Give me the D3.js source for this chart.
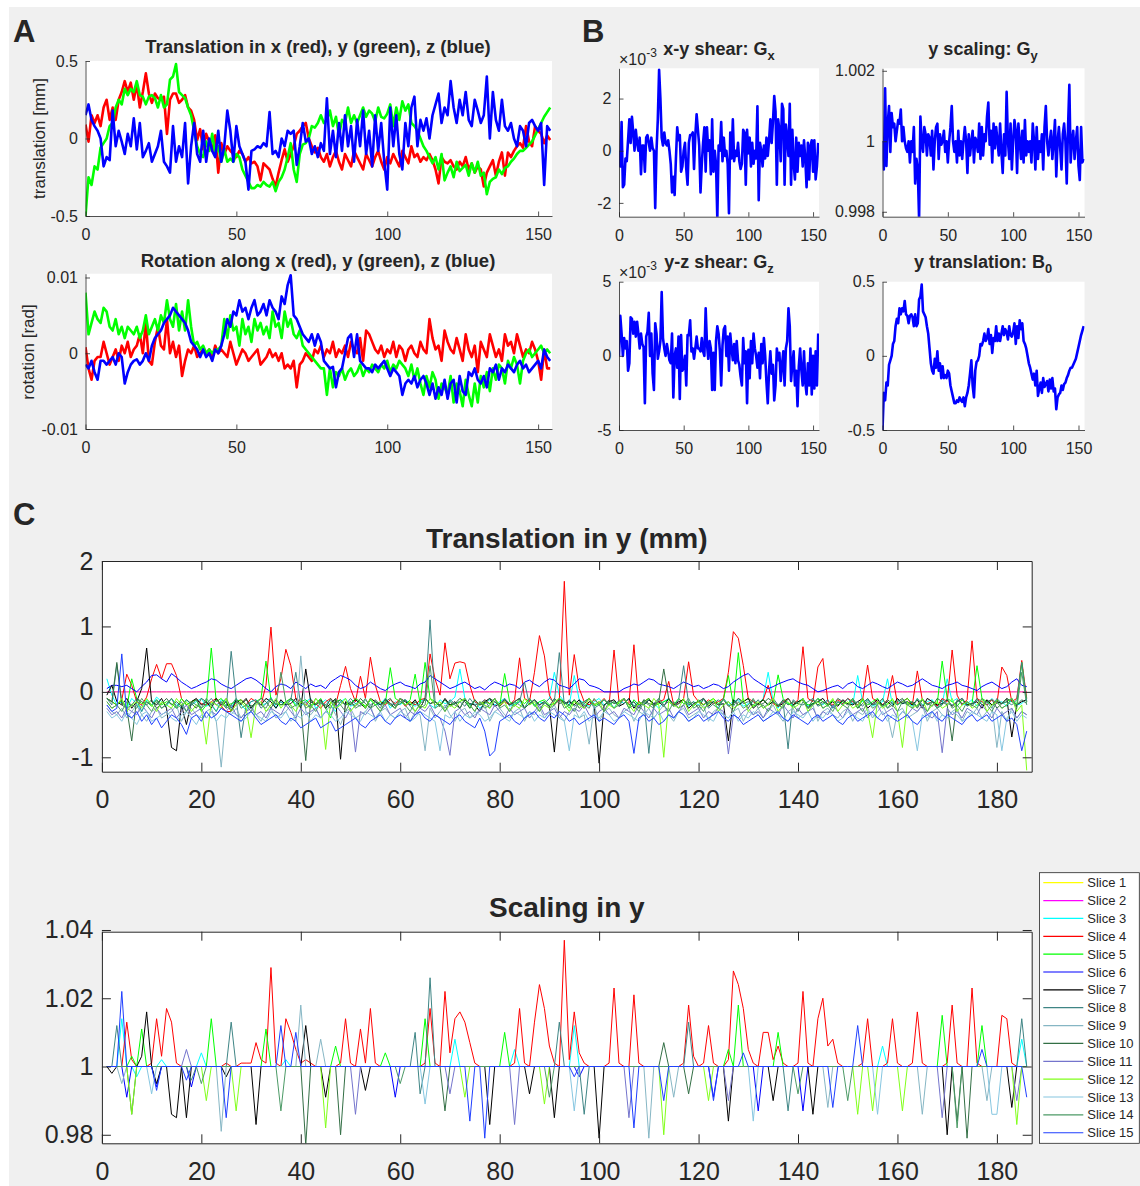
<!DOCTYPE html>
<html>
<head>
<meta charset="utf-8">
<script src="https://cdn.jsdelivr.net/npm/d3@7"></script>
<style>
  body { margin: 0; background: #fff; }
  svg text { font-family: "Liberation Sans", Arial, sans-serif; fill: #262626; }
</style>
</head>
<body>
<svg id="fig" width="1140" height="1186"></svg>
<script>
// ---------- panel A / B : 155 time points, x = 0..154 ----------
// translation in mm x100
const transX = [
  9,-2,15,10,15,8,20,25,12,20,
  12,25,30,37,30,36,25,35,20,30,
  42,29,23,29,26,25,27,3,25,29,
  29,23,25,28,20,18,12,-1,6,-7,
  3,-2,-8,2,-22,-3,-10,-5,-8,-10,
  -12,-8,-10,-15,-12,-16,-15,-18,-27,-16,
  -18,-20,-26,-31,-22,-14,-7,-15,-10,-5,
  3,5,8,10,0,-5,-9,-6,-12,-15,
  -10,-18,-12,-8,-15,-20,-10,-14,-18,-8,
  -12,-16,-20,-10,-14,-18,-12,-8,-15,-20,
  -12,-16,-10,-14,-18,-8,-12,-16,-5,-12,
  -10,-15,-12,-14,-10,-14,-20,-29,-12,-15,
  -16,-14,-18,-20,-15,-18,-12,-20,-16,-22,
  -18,-20,-31,-22,-18,-14,-24,-15,-9,-24,
  -9,-12,-8,-5,-3,-6,8,-2,-5,8,
  5,3,-3,2,-1
];
const transY = [
  -50,-25,-30,-18,-20,-6,-3,0,8,10,
  20,25,22,32,28,32,30,37,28,27,
  22,27,28,26,20,28,20,22,38,40,
  48,30,28,26,20,15,5,-5,-10,-12,
  -2,-8,3,-10,-5,-15,-7,-15,-13,-15,
  -10,-12,-20,-24,-28,-32,-32,-30,-31,-28,
  -30,-31,-28,-34,-28,-25,-20,-12,-3,-20,
  -28,-10,-4,-3,0,8,7,10,15,10,
  12,18,8,14,2,12,10,20,10,15,
  10,15,20,14,18,16,11,20,14,13,
  16,22,8,20,12,24,18,22,10,8,
  5,0,-5,-8,-12,-16,-12,-20,-10,-27,
  -22,-18,-25,-15,-21,-19,-17,-24,-16,-22,
  -15,-24,-22,-36,-28,-26,-25,-20,-23,-19,
  -18,-15,-13,-10,-8,-8,-6,-4,-2,2,
  6,10,14,17,20
];
const transZ = [
  15,22,12,8,5,0,-18,-12,-14,18,
  -5,5,-2,-10,3,-5,13,-7,10,-12,
  -8,-3,-15,-10,-5,5,-15,-18,-22,8,
  -15,-5,-12,10,-29,-5,10,-10,-15,5,
  -15,0,-8,-12,5,-15,-5,18,5,-15,
  8,-5,-10,-15,-33,-8,-7,-5,-6,-3,
  -5,17,-10,-8,-12,0,-5,5,3,5,
  -17,-5,10,-2,0,-10,-5,-12,-3,-8,
  26,-10,5,-12,10,-8,15,-5,8,-15,
  12,-5,18,-10,5,-18,15,-8,10,-15,
  -33,20,-5,15,-10,-20,10,-5,20,27,
  -5,12,5,13,0,15,22,29,10,20,
  15,37,20,10,25,15,30,12,8,25,
  18,10,15,40,0,30,12,5,25,8,
  5,10,0,-5,8,5,-5,10,12,8,
  5,10,-30,8,5
];
// rotation in rad x1e4
const rotX = [
  8,-20,-35,-10,-5,-5,15,0,-15,-5,
  5,-10,10,0,15,-5,5,10,25,0,
  40,-10,-15,15,35,10,5,45,0,15,
  -5,10,-30,-10,5,0,10,-5,0,5,
  0,5,-5,10,0,5,0,-5,15,0,
  -15,-5,5,0,-10,-5,0,5,-15,-10,
  -5,5,-5,0,-10,0,-20,-15,-20,-10,
  -45,-15,-10,0,-5,-10,5,0,10,-5,
  5,0,15,-5,5,0,10,-5,15,5,
  0,20,-10,30,25,15,5,0,10,-5,
  5,0,15,-5,10,5,-10,5,10,0,
  -5,15,5,0,45,20,5,10,-10,30,
  15,5,0,20,5,-10,25,5,-5,10,
  -25,15,5,-5,25,10,-5,5,-10,25,
  10,15,0,25,10,-5,5,0,15,5,
  -10,-35,5,-20,-20
];
const rotY = [
  80,25,40,55,45,40,60,55,35,30,
  45,25,35,20,35,30,25,35,20,30,
  50,25,35,45,30,50,40,70,45,35,
  65,30,55,30,70,35,10,15,5,10,
  0,5,0,5,5,10,45,20,50,30,
  35,10,45,25,35,15,45,30,40,25,
  35,20,55,35,40,20,55,35,45,25,
  20,30,10,5,0,-5,-10,-15,-20,-20,
  -55,-20,-45,-25,-30,-20,-35,-25,-20,-30,
  -25,-15,-30,-20,-25,-15,-20,-25,-15,-20,
  -10,-25,-15,-20,-10,-15,-20,-30,-15,-35,
  -20,-40,-55,-30,-45,-25,-35,-60,-40,-45,
  -55,-30,-65,-40,-50,-70,-35,-55,-70,-40,
  -65,-30,-45,-25,-50,-20,-35,-15,-20,-40,
  -10,-20,-5,-15,-40,-10,0,5,-5,0,
  5,10,0,5,0
];
const rotZ = [
  -15,-20,-10,-25,-35,-10,-10,-15,-10,-5,
  -15,0,-5,-40,-25,-15,-10,-8,-15,-10,
  0,-10,10,20,25,30,40,45,50,60,
  55,50,45,40,30,15,10,5,-5,5,
  -5,0,-10,5,0,10,25,45,35,55,
  50,70,55,60,45,60,70,50,55,65,
  50,70,60,55,45,75,65,90,103,50,
  45,35,25,20,15,25,10,25,15,-10,
  -15,-20,-18,-45,-25,-20,0,20,25,-5,
  25,-10,-15,-20,-20,-25,-15,-20,-15,-10,
  -20,-30,-20,-25,-30,-55,-40,-35,-40,-30,
  -45,-35,-30,-40,-55,-40,-60,-45,-55,-35,
  -60,-40,-35,-65,-30,-50,-55,-25,-30,-20,
  -35,-40,-30,-45,-20,-25,-15,-35,-20,-25,
  -15,-20,-25,-15,-10,-20,-15,-25,-20,-15,
  -10,-20,5,-5,-10
];
// shear x1e4, scaling deviation from 1 x1e4
const shearGx = [
  0,-6,11,-14,-13,-3,-4,4,12,3,
  13,7,0,8,3,0,5,-9,2,2,
  -8,5,6,3,0,5,1,0,-22,0,
  12,31,20,5,2,7,3,2,4,0,
  -5,-16,-10,-17,-3,9,4,6,-8,-6,
  0,3,-7,-13,3,6,6,7,-7,6,
  14,8,2,-16,-5,3,9,-8,9,0,
  4,-9,12,-8,0,-5,-26,2,0,11,
  -4,5,-2,0,-5,-24,7,-3,12,-4,
  0,-2,3,-4,-7,-5,8,7,-13,8,
  -1,5,-6,3,-5,0,-3,17,-19,3,
  0,-6,2,-3,5,-2,4,12,3,11,
  21,15,-13,12,8,-4,18,16,-13,10,
  5,-2,18,-13,8,-5,-11,5,-8,3,
  -2,2,-6,4,-3,-14,3,-11,2,4,
  -8,4,-11,-6,3
];
const scaleGy = [
  0,-8,15,-7,5,10,-3,8,4,5,
  0,3,6,5,9,0,4,0,-2,-3,
  0,-6,0,-3,4,-12,-5,-8,-22,7,
  0,-3,4,2,-4,2,1,-4,3,-8,
  0,4,5,-5,2,-1,0,3,-3,0,
  -6,0,4,10,0,-3,0,-6,3,-4,
  0,-5,0,4,0,-9,2,-4,0,3,
  -6,1,0,-3,5,-5,4,-4,2,0,
  7,11,-1,3,-6,5,-2,4,0,-4,
  5,-3,-9,2,-4,14,0,-5,5,-8,
  0,6,3,-9,5,0,-5,3,-6,6,
  -4,0,-3,0,-6,5,0,-8,4,-5,
  0,-3,2,-8,4,10,0,-4,0,3,
  -5,0,6,-10,0,4,-2,-8,2,5,
  0,-12,4,16,-6,0,3,-5,0,4,
  -7,-11,4,-6,-5
];
const shearGz = [
  0,27,15,0,12,5,10,-10,-5,26,
  25,15,23,13,23,15,5,15,8,6,
  -32,13,16,29,0,15,-12,-23,22,15,
  -2,3,10,43,12,5,0,8,3,-3,
  -5,15,-28,0,5,-8,13,-29,14,-10,
  -8,0,-20,14,14,24,3,5,-2,5,
  13,5,5,3,12,3,0,32,8,-2,
  10,5,-23,2,-23,10,20,15,3,-20,
  7,18,20,0,13,-10,15,5,-3,8,
  -5,10,-3,-6,-14,-20,12,-5,3,-32,
  4,-15,10,-5,15,5,0,-8,2,-15,
  8,-5,12,0,-18,-32,-10,3,-12,-6,
  -30,-20,5,-3,2,-17,-6,3,-20,5,
  10,32,20,-17,-6,3,-20,-10,-34,-7,
  5,-10,-20,3,-18,-26,-5,-20,5,-26,
  0,-22,3,-20,15
];

// ---------- panel C : 15 slices, 186 time points, x = 1..186 ----------
const sliceNames = ['Slice 1','Slice 2','Slice 3','Slice 4','Slice 5','Slice 6','Slice 7','Slice 8',
  'Slice 9','Slice 10','Slice 11','Slice 12','Slice 13','Slice 14','Slice 15'];
const sliceColors = ['#ffff00','#ff00ff','#00ffff','#ff0000','#00ff00','#0000ff','#000000','#3f8585',
  '#86b6c4','#336f45','#7474cc','#80ff1a','#86c6e0','#4c9a66','#1f3fff'];

// reference slice: no motion
const sliceRef = [
  0,0,0,0,0,0,0,0,0,0,0,0,0,0,0,0,0,0,0,0,
  0,0,0,0,0,0,0,0,0,0,0,0,0,0,0,0,0,0,0,0,
  0,0,0,0,0,0,0,0,0,0,0,0,0,0,0,0,0,0,0,0,
  0,0,0,0,0,0,0,0,0,0,0,0,0,0,0,0,0,0,0,0,
  0,0,0,0,0,0,0,0,0,0,0,0,0,0,0,0,0,0,0,0,
  0,0,0,0,0,0,0,0,0,0,0,0,0,0,0,0,0,0,0,0,
  0,0,0,0,0,0,0,0,0,0,0,0,0,0,0,0,0,0,0,0,
  0,0,0,0,0,0,0,0,0,0,0,0,0,0,0,0,0,0,0,0,
  0,0,0,0,0,0,0,0,0,0,0,0,0,0,0,0,0,0,0,0,
  0,0,0,0,0,0
];

// translation in y, mm x100
const ty3 = [
  20,-5,-20,-15,-25,-10,-18,-30,-12,-20,-8,-15,-22,-10,-18,-25,-12,-20,-15,-10,
  -22,-18,-30,-12,-15,-25,-10,-20,-28,-15,-12,-20,-18,-8,-25,-15,-20,-12,-18,-22,
  -15,-10,-25,-18,-12,-20,-30,-15,-10,-22,-18,-15,-25,-12,-20,-18,-10,-25,-15,-20,
  -12,-18,-22,-15,-10,-20,-25,-12,-18,-15,-8,35,-10,-20,-15,-25,-18,-12,-20,-15,
  -10,-22,-18,-15,-25,-12,-20,-15,-18,-10,30,-5,-15,-20,25,-12,-18,-22,-15,-10,
  -20,-15,-25,-12,-18,-10,-22,-15,-20,-12,-18,-25,-15,-10,-20,-18,-12,-22,-15,-20,
  -12,-18,-15,-25,-10,-20,-15,-12,-22,-18,-15,-20,-10,30,-15,-25,-12,-18,-20,-15,
  -10,-22,-18,-15,-20,-12,-25,-15,-18,-10,-20,25,-15,-12,-22,-18,-15,20,-20,-12,
  -18,-15,-22,-10,-20,-15,-12,-25,-18,20,-15,-10,-20,-18,-12,-22,-15,-20,-10,-18,
  -15,-22,-12,-20,-18,-10
];
const ty4 = [
  -10,-15,-20,-12,27,10,-15,-20,-8,20,42,20,43,43,25,-10,-20,-15,-12,-18,
  -20,-15,-10,-22,-30,-30,-15,-12,-20,-10,-15,-20,10,99,-5,20,65,40,-10,-15,
  -20,-12,-18,-25,-15,-10,-20,10,39,5,-15,24,-10,53,10,-15,-20,-12,-18,-10,
  -22,-15,-20,-12,-10,58,20,-5,75,20,44,46,44,10,-15,-20,-12,-18,-10,-22,
  -15,-20,-12,52,-10,-15,30,86,55,-5,-20,-12,169,-5,57,5,-15,-20,-12,-18,
  -10,-20,64,-15,-12,-18,72,-20,-15,-10,-22,-15,-12,16,-20,-18,-10,46,-5,-15,
  -20,-12,-18,-15,-10,30,92,82,40,-10,-15,-20,-12,10,-18,-22,-15,-10,-20,-12,
  69,-10,-15,38,51,-15,-20,-12,-18,-10,-15,-20,-12,41,-10,-15,-20,-12,25,-18,
  -15,-10,-20,32,-12,-18,-15,-22,-10,-15,64,-5,-20,-12,78,-10,-15,-20,-12,-18,
  38,25,-15,-10,48,-10
];
const ty5 = [
  -10,-15,-20,-12,-25,20,-10,-18,-15,-22,-12,-20,-15,-18,-25,-10,-20,-15,-12,-30,
  -20,67,-15,-10,-22,-18,-15,-12,-20,-25,-15,-10,47,-12,-18,-20,-15,-10,-22,-15,
  -12,-20,-18,-10,-25,-40,-15,-12,-20,-18,-10,-15,-22,-12,-20,-15,-18,37,-10,-15,
  -20,-12,27,-18,45,-10,-15,-22,-12,-20,-18,-15,-10,-25,-12,-20,-15,-18,-10,-22,
  28,-15,-20,-12,-18,-10,-22,-15,-12,-20,-18,-10,-15,-25,-12,-20,-15,-10,-22,-18,
  -12,-20,-15,-18,-10,-25,-12,-20,-15,-10,-22,-18,-15,-12,-20,-10,-18,-15,-22,-12,
  -20,-15,-10,-18,-12,25,-20,60,-15,-10,-22,-18,-12,-20,-15,26,-10,-18,-22,-15,
  -12,-20,-18,-10,-15,-22,-12,-20,-15,-18,-10,-25,-12,-20,-15,-10,-22,-18,-12,-20,
  -15,-10,-18,-22,-12,-20,-15,-18,47,-10,-15,-22,-12,-20,-18,40,-10,-15,-20,-12,
  -18,-15,-10,-20,45,-15
];
const ty6 = [
  5,10,10,8,10,5,0,8,15,25,26,20,15,28,22,15,10,5,8,12,
  15,20,18,12,8,5,10,15,20,22,18,12,5,0,8,12,10,5,15,10,
  5,12,8,10,5,15,20,25,22,18,10,5,8,15,10,5,2,8,12,15,
  10,8,5,12,15,25,20,15,10,5,8,12,15,10,5,8,3,10,15,12,
  8,12,10,5,15,18,12,8,15,20,18,10,8,5,12,20,18,10,8,5,
  0,0,0,0,5,8,12,10,15,20,18,12,10,8,5,10,15,12,8,10,
  5,8,12,10,5,8,15,20,25,28,20,15,10,5,8,12,15,18,20,15,
  12,10,5,0,2,5,8,10,5,12,15,8,5,10,15,12,8,5,10,15,
  12,8,10,15,20,15,10,8,5,10,12,15,10,8,5,2,8,12,15,10,
  5,8,15,20,10,8
];
const ty7 = [
  -5,10,-15,-20,-10,-25,-15,5,67,-15,-20,-10,-25,-85,-90,-20,-50,-15,-10,-20,
  -15,-25,-10,-20,-15,-30,-12,-18,-10,-25,-15,-20,-10,-15,-25,-12,-20,-18,-10,-25,
  35,-15,-20,-12,-25,-18,-10,-103,-15,-20,-12,-18,-25,-10,-15,-20,-12,-18,-25,-10,
  -15,-20,-12,-25,-10,-18,-15,-22,-10,-20,-15,-25,-12,-18,-20,-30,-15,-10,-22,-18,
  -12,-20,-15,-10,-25,-18,-12,-20,-15,-22,-92,-10,-18,-15,-20,-12,-25,-15,-18,-109,
  -20,-15,-12,-22,-18,-10,-25,-15,-20,-12,-18,-15,-22,-10,-20,-15,-12,-25,-18,-15,
  -10,-22,-15,-20,-18,-75,-12,-20,-15,-10,-25,-18,-12,-20,-15,-22,-18,-10,-20,-15,
  -12,-25,-18,-15,-10,-20,-15,-22,-12,-18,-20,-15,-10,-25,-18,-12,-20,-15,-22,-10,
  -18,-15,-20,-12,-25,-10,-15,-20,-18,-12,-22,-15,-10,-20,-18,-15,-25,-12,-20,-15,
  -18,-10,-69,-20,-15,-12
];
const ty8 = [
  -10,-20,42,-15,-25,-20,-10,-30,-15,-20,-12,-25,-18,-10,-22,-15,-30,-20,-12,-25,
  -18,-10,-20,-15,-25,62,-10,-70,-20,-15,-12,-25,-18,-10,-20,-15,-22,-12,30,-20,
  -15,-25,-10,-18,-20,-12,-25,-15,-20,-10,-18,-22,-12,-20,-15,-25,-10,-18,-20,-15,
  -12,-22,-30,-18,-10,110,-15,-20,-25,-12,-18,-15,-22,-10,-20,-18,-12,-25,-15,-20,
  -10,-18,-22,-15,15,-20,-12,-25,-18,-10,-15,60,-20,-12,-22,-18,-15,-10,-25,-20,
  -12,-18,-15,-22,-10,-20,-15,-25,-12,-94,-18,-10,-20,-15,-22,-12,40,-18,-20,-15,
  -10,-25,-18,-12,-20,-15,-22,-10,-18,-15,-20,-12,-25,-18,-10,-20,-15,-87,-12,-18,
  -20,-15,-10,-22,-18,-12,-25,-15,-20,-10,-18,-15,-22,-12,-20,-18,-10,-25,-15,-20,
  -12,-18,-15,-22,-10,-20,-15,-25,-12,-18,-20,-15,-10,-22,-18,-12,-20,-15,-25,-10,
  -18,-15,-20,-12,45,-15
];
const ty9 = [
  -20,-30,-35,-25,-40,-30,-20,-35,-45,-30,-25,-40,-35,-30,-20,-45,-30,-25,-35,-40,
  -30,-25,-45,-115,-30,-35,-25,-40,-30,-20,-35,-45,-30,-25,-40,-35,-30,-20,-45,55,
  -30,-35,-25,-40,-30,-20,-35,-50,-30,-25,-40,-35,-30,-20,-45,-30,-25,-35,-40,-30,
  -25,-45,-30,-35,-90,-25,-40,-30,-20,-35,-45,-30,-25,-40,-35,-30,-20,-45,-30,-25,
  -35,-40,-30,-25,-45,-30,-35,-25,-40,-30,-20,-35,-45,-30,-25,-40,-35,-80,-20,-45,
  -30,-25,-35,-40,-30,-25,-45,-30,-35,-25,-40,-30,-20,-35,-45,-30,-25,-40,-35,-30,
  -20,-45,-30,-25,-35,-40,-30,-25,-45,-30,-35,-25,-40,-30,-20,-35,-45,-30,-25,-40,
  -35,-30,-20,-45,-30,-25,-35,-40,-30,-25,-45,-30,-35,-25,-40,-30,-20,-35,-70,-30,
  -25,-40,-35,-30,-20,-45,-30,-25,-35,-40,-30,-25,-45,-30,-35,-25,-40,-30,-20,-85,
  -30,-45,-25,-40,-30,-35
];
const ty10 = [
  -10,-15,45,-20,-25,-75,-10,-15,-20,-12,-25,-18,-10,-20,-15,-22,-12,-18,-25,-10,
  -15,-20,-12,-18,-10,-25,-15,-20,-12,-22,-18,-10,-15,-25,-12,-20,-18,-10,-15,-22,
  -105,-12,-20,-15,-25,-10,-18,-12,-20,-15,-22,-10,-18,-25,-12,-20,-15,-10,-22,-18,
  -12,-20,-15,-25,-10,-18,-15,-20,-12,-22,-18,-10,-15,-25,-12,-20,-18,-10,-15,-22,
  -12,-20,-15,-10,-25,-18,-12,-20,-15,-22,-10,-18,-15,-20,-12,-25,-18,-10,-20,-15,
  -22,-12,-18,-15,-10,-20,-15,-25,-12,-18,-20,-15,35,-10,-22,-18,-12,-20,-15,-25,
  -10,-18,-15,-20,-12,-22,-18,-10,-15,-25,-12,-20,-18,-10,-15,-22,-12,-20,-15,-18,
  -10,-25,-12,-20,-15,-18,-22,-10,-15,-20,-12,-25,-18,-10,-20,-15,-22,-12,-18,-15,
  -10,-20,-15,-25,-12,-18,-22,-10,-15,-20,-75,-12,-18,-15,-22,-10,-20,-15,-12,-25,
  -18,-10,-15,-20,-12,-18
];
const ty11 = [
  -25,-35,-30,-40,-25,-30,-35,-20,-30,-40,-25,-35,-30,-25,-40,-30,-20,-35,-30,-25,
  -40,-30,-35,-25,-30,-20,-35,-40,-30,-25,-35,-30,-40,-25,-30,-35,-20,-30,-40,-25,
  -35,-30,-25,-40,-30,-35,-20,-30,-40,-25,-92,-30,-35,-25,-40,-30,-20,-35,-30,-25,
  -40,-30,-35,-25,-30,-20,-35,-40,-60,-97,-30,-25,-35,-30,-40,-25,-30,-35,-20,-30,
  -40,-25,-35,-30,-25,-40,-30,-20,-35,-30,-25,-40,-30,-35,-25,-30,-20,-35,-40,-30,
  -25,-35,-30,-40,-25,-30,-35,-20,-30,-40,-25,-35,-30,-25,-40,-30,-20,-35,-30,-25,
  -40,-30,-35,-25,-30,-95,-35,-40,-30,-25,-35,-30,-40,-25,-30,-35,-20,-30,-40,-25,
  -35,-30,-25,-40,-30,-35,-20,-30,-40,-25,-35,-30,-25,-40,-30,-20,-35,-30,-25,-40,
  -30,-35,-25,-30,-20,-35,-40,-30,-93,-25,-35,-30,-40,-25,-30,-35,-20,-30,-40,-25,
  -35,-30,-25,-40,-30,-35
];
const ty12 = [
  -15,-25,-20,-10,-30,-20,-15,-25,-10,-20,-30,-15,-20,-25,-10,-20,-15,-30,-20,-25,
  -80,-15,-20,-25,-10,-30,-20,-15,-25,-70,-20,-15,-30,-20,-10,-25,-15,-20,-30,-15,
  -20,-25,-10,-20,-88,-15,-25,-20,-10,-30,-20,-15,-25,-10,-20,-30,-15,-20,-25,-10,
  -20,-15,-30,-20,-25,-10,-20,-15,-30,-20,-25,-15,-10,-20,-30,-15,-20,-25,-10,-20,
  -15,-30,-20,-25,-10,-20,-15,-30,-20,-25,-15,-10,-20,-30,-15,-20,-25,-10,-20,-15,
  -30,-20,-25,-15,-10,-20,-30,-15,-20,-25,-10,-20,-100,-15,-20,-25,-10,-30,-20,-15,
  -25,-20,-10,-30,-20,-15,-25,-20,-10,-30,-20,-15,-25,-20,-10,-30,-20,-15,-25,-20,
  -10,-30,-20,-15,-25,-20,-10,-30,-20,-15,-25,-20,-10,-30,-70,-15,-25,-20,-10,-30,
  -85,-15,-25,-20,-10,-30,-20,-15,-25,-20,-10,-30,-20,-15,-25,-20,-10,-30,-20,-15,
  -25,-20,-10,-30,-20,-120
];
const ty13 = [
  -30,-40,-35,-45,-30,-40,-50,-35,-30,-45,-40,-35,-30,-40,-45,-35,-30,-40,-50,-35,
  -40,-30,-45,-35,-40,-30,-35,-45,-40,-30,-35,-40,-45,-30,-35,-40,-30,-45,-35,-40,
  -30,-45,-35,-40,-30,-35,-45,-40,-30,-35,-40,-45,-30,-35,-40,-30,-45,-35,-40,-30,
  -35,-45,-40,-30,-35,-40,-45,-90,-35,-40,-30,-45,-35,-40,-30,-35,-45,-40,-30,-35,
  -40,-45,-30,-35,-40,-30,-45,-35,-40,-30,-35,-40,-45,-90,-35,-40,-30,-45,-35,-40,
  -30,-35,-45,-40,-30,-35,-40,-45,-30,-35,-40,-30,-45,-35,-40,-30,-35,-45,-40,-30,
  -35,-40,-45,-30,-35,-40,-30,-45,-35,-40,-30,-35,-45,-40,-30,-35,-40,-45,-30,-35,
  -40,-30,-45,-35,-40,-30,-35,-45,-40,-30,-35,-40,-45,-30,-35,-40,-30,-45,-35,-40,
  -30,-35,-45,-90,-35,-40,-30,-45,-35,-40,-30,-35,-45,-40,-30,-35,-40,-45,-30,-35,
  -90,-40,-30,-45,-35,-40
];
const ty14 = [
  -15,-25,-20,-30,-15,-20,-25,-10,-20,-30,-15,-25,-20,-10,-25,-20,-30,-15,-20,-25,
  -10,-20,-30,-15,-25,-20,-10,-25,-20,-30,-15,-20,-25,-10,-20,30,-15,-25,-20,-10,
  -25,-20,-30,-15,-20,-25,-10,-20,-30,-15,-25,-20,-10,-25,-20,-30,-15,-20,-25,-10,
  -20,-30,-15,-25,-20,40,-25,-20,-30,-15,-20,-25,-10,-20,-30,-15,-25,-20,-10,-25,
  -20,-30,-15,-20,-25,-10,-20,-30,-15,-25,-20,-10,-25,-20,-30,-15,-20,-25,-10,-20,
  -30,-15,-25,-20,-10,-25,-20,-30,-15,-20,-25,-10,-20,-30,-15,-25,-20,-10,-25,-20,
  -30,-15,-20,-25,-10,-20,-30,-15,-25,-20,-10,-25,-20,-30,-15,-20,-25,-10,-20,-30,
  -15,-25,-20,-10,-25,-20,-30,-15,-20,-25,-10,-20,-30,-15,-25,-20,-10,-25,-20,-30,
  -15,-20,-25,-10,-20,-30,-15,-25,-20,-10,-25,-20,-30,-15,-20,-25,-10,-20,-30,-15,
  -25,-20,-10,-25,30,-20
];
const ty15 = [
  -20,-30,-25,58,-35,-40,-30,-45,-35,-50,-40,-55,-45,-35,-40,-50,-65,-40,-35,-45,
  -30,-40,-35,-25,-30,-35,-40,-45,-35,-30,-40,-50,-45,-40,-35,-45,-50,-40,-45,-55,
  -50,-45,-40,-55,-50,-45,-60,-55,-50,-45,-40,-50,-55,-45,-40,-35,-45,-50,-40,-35,
  -40,-45,-35,-30,-40,-45,-35,-40,-45,-50,-40,-35,-45,-50,-55,-40,-60,-98,-90,-45,
  -40,-35,-45,-50,-40,-35,-30,-40,-45,-35,-40,-30,-35,-45,-40,-50,-45,-40,-35,-45,
  -40,-45,-50,-40,-35,-45,-94,-40,-35,-45,-40,-50,-45,-35,-40,-30,-35,-45,-40,-35,
  -45,-40,-35,-30,-40,-45,-35,-40,-50,-45,-40,-35,-45,-40,-35,-30,-40,-45,-35,-40,
  -45,-50,-40,-35,-45,-40,-35,-45,-50,-40,-35,-45,-40,-35,-30,-40,-45,-35,-40,-45,
  -40,-35,-45,-50,-40,-35,-30,-40,-45,-35,-40,-45,-50,-40,-35,-45,-40,-35,-45,-40,
  -35,-45,-40,-50,-90,-60
];

// scaling in y, deviation from 1 x1000
const sy3 = [
  0,0,0,14,0,0,-3,0,0,0,0,2,0,0,0,0,0,0,0,4,
  0,0,0,0,0,0,0,0,0,0,0,0,0,0,0,0,2,0,0,0,
  0,0,0,0,0,0,0,0,0,0,0,0,0,0,0,0,0,0,0,0,
  0,0,0,0,0,0,0,0,0,0,8,0,0,0,0,0,0,0,0,0,
  0,0,5,0,0,0,0,0,0,0,0,0,0,0,12,0,0,0,0,0,
  0,0,0,0,0,0,0,0,0,0,0,0,0,0,0,0,0,0,0,0,
  0,0,0,0,0,0,0,0,0,0,0,0,0,0,0,0,0,0,0,0,
  0,0,0,0,0,0,0,0,0,0,0,0,0,0,0,0,6,0,0,0,
  0,0,0,0,0,0,0,0,0,0,0,0,0,0,0,0,0,0,0,0,
  0,0,0,0,8,0
];
const sy4 = [
  0,0,0,0,13,2,0,0,0,1,14,3,17,13,1,0,0,0,0,0,
  0,0,0,0,1,0,0,1,1,1,7,2,1,29,1,0,14,10,5,1,
  2,1,0,0,0,0,0,1,14,1,0,11,1,17,1,0,0,0,0,0,
  0,0,0,0,1,17,1,0,22,4,14,16,13,7,1,0,0,0,0,0,
  0,0,1,17,1,0,13,24,17,6,1,0,37,2,16,4,1,0,0,0,
  0,1,23,1,0,0,21,1,0,0,0,0,0,0,0,0,1,18,3,0,
  1,12,1,0,0,2,28,24,17,5,1,0,10,10,2,6,1,0,0,1,
  22,1,0,14,20,6,8,1,0,0,0,0,1,14,0,0,0,1,14,1,
  0,0,1,16,1,0,0,0,0,1,18,1,0,0,23,1,0,0,0,0,
  15,14,1,0,0,0
];
const sy5 = [
  0,0,0,0,0,3,0,11,0,0,0,0,0,0,0,0,0,0,0,0,
  0,14,0,0,0,0,0,0,0,0,0,0,11,0,0,0,0,0,0,0,
  0,0,0,0,0,0,6,0,0,0,0,0,0,0,0,0,4,0,0,0,
  0,0,0,0,14,0,0,0,0,0,0,0,0,0,0,0,0,0,0,0,
  10,0,0,0,0,0,0,0,0,0,0,0,0,0,0,0,0,0,0,0,
  0,0,0,0,0,0,0,0,0,0,0,0,0,0,0,0,0,0,0,0,
  0,0,0,0,0,5,0,18,0,0,0,0,0,0,0,10,0,0,0,0,
  0,0,0,0,0,0,0,0,0,0,0,0,0,0,0,0,0,0,0,0,
  0,0,0,0,0,0,0,0,15,0,0,0,0,0,0,0,12,0,0,0,
  0,0,0,0,0,0
];
const sy6 = [
  0,0,0,0,-9,0,0,0,0,0,-6,0,0,0,0,0,0,-6,0,0,
  0,0,0,0,0,0,0,0,0,0,0,0,0,0,0,0,0,0,0,0,
  0,0,0,0,0,0,0,0,0,0,0,0,0,0,0,0,0,0,-9,0,
  0,0,0,0,0,0,0,0,0,0,0,0,0,0,0,0,0,0,0,0,
  0,0,0,0,0,0,0,0,0,0,0,0,0,0,0,-3,0,0,0,0,
  0,0,0,0,0,0,0,0,0,0,0,0,0,0,0,0,0,0,0,0,
  0,0,-9,0,0,0,0,0,0,0,0,-13,0,0,0,0,0,0,0,0,
  -13,0,0,0,0,0,0,0,0,0,0,0,0,0,0,0,0,0,0,0,
  0,0,0,0,0,0,0,0,0,0,0,0,0,0,0,0,0,0,0,0,
  0,0,0,0,0,0
];
const sy7 = [
  0,-2,0,0,0,0,0,3,16,0,-5,0,0,-14,-15,0,-15,0,0,0,
  0,0,0,0,-3,0,0,0,0,0,-17,0,0,0,0,0,0,0,0,0,
  12,0,0,0,-9,0,0,0,0,0,0,0,-7,0,0,0,0,0,0,0,
  0,0,0,0,0,0,0,0,0,0,0,0,0,0,0,0,0,-17,0,0,
  0,0,0,0,0,-8,0,0,0,0,-15,0,0,0,0,0,0,0,0,-21,
  0,0,0,0,0,0,0,0,0,0,0,0,0,0,0,0,0,0,0,0,
  0,0,0,0,0,-16,0,0,0,0,0,0,0,0,-10,0,0,0,0,0,
  0,0,-14,0,0,0,0,0,0,0,0,0,0,0,0,0,0,0,0,0,
  0,0,0,0,0,0,0,0,0,-20,0,0,0,0,0,0,0,0,0,0,
  0,0,-12,0,0,0
];
const sy8 = [
  0,0,12,0,0,0,0,0,0,0,0,0,0,0,0,0,0,-4,0,0,
  0,0,0,0,0,13,0,0,0,0,0,0,0,0,0,0,0,0,0,0,
  0,0,0,0,0,0,0,0,0,0,0,0,0,0,0,0,0,0,0,0,
  0,0,10,-8,0,26,0,0,0,0,0,0,0,0,0,0,0,0,0,0,
  0,0,0,0,0,0,0,0,0,0,0,13,0,0,0,0,-14,0,0,0,
  0,0,0,0,0,0,0,0,0,0,0,0,0,0,0,0,0,13,0,0,
  0,0,0,0,0,0,0,0,0,0,0,0,0,0,0,0,0,-13,0,0,
  0,0,0,0,0,0,0,0,0,0,0,0,0,0,0,0,0,0,0,0,
  0,0,0,0,0,0,0,0,0,0,0,0,0,0,0,0,0,0,0,0,
  0,0,0,0,14,0
];
const sy9 = [
  0,0,0,-5,0,0,0,0,0,0,0,0,0,0,0,0,0,0,0,0,
  0,0,0,-19,0,0,0,0,0,0,0,0,0,0,0,0,0,0,0,18,
  0,0,0,8,0,0,0,0,0,0,0,0,0,0,0,0,0,0,0,0,
  0,0,0,0,0,0,0,0,0,0,0,0,0,0,0,0,0,0,0,0,
  0,0,0,0,0,0,0,0,0,0,0,0,0,0,0,0,0,0,0,0,
  0,0,0,0,0,0,0,0,0,-21,0,0,0,0,-9,0,0,0,0,0,
  0,0,0,0,0,0,0,0,0,0,0,0,0,0,0,0,0,0,0,0,
  0,0,0,0,0,-12,0,0,0,0,0,0,0,0,0,0,0,0,0,0,
  0,0,0,0,-14,0,0,0,0,0,0,0,0,0,0,0,0,-10,0,0,
  0,0,0,0,0,0
];
const sy10 = [
  0,0,0,0,0,-14,0,0,0,0,0,0,0,0,0,0,0,0,0,0,
  0,0,0,0,0,0,0,0,0,0,0,0,0,0,0,0,0,0,0,0,
  -23,0,0,0,0,0,0,-20,0,0,0,0,0,0,0,0,0,0,0,0,
  0,0,0,0,0,0,0,0,-13,0,0,0,0,0,0,0,0,0,0,0,
  0,0,0,0,0,0,0,0,0,0,0,0,0,0,0,0,0,0,0,0,
  0,0,0,0,0,0,0,0,0,0,0,0,7,0,0,0,0,-8,0,0,
  0,0,0,0,0,0,0,0,0,0,0,0,0,0,0,0,0,0,0,0,
  0,0,0,0,0,0,0,0,0,0,0,0,0,0,0,0,0,0,0,0,
  0,0,0,0,0,0,0,0,0,0,0,-16,0,-21,0,0,0,0,0,0,
  0,0,0,0,0,0
];
const sy11 = [
  0,0,0,0,0,0,0,0,0,0,0,0,0,0,0,0,5,0,0,0,
  0,0,0,0,0,0,0,0,0,0,0,0,0,0,0,0,0,0,0,0,
  0,0,0,0,0,0,0,0,0,0,-14,0,0,0,0,0,0,0,0,0,
  0,0,0,0,0,0,0,0,0,-8,0,0,0,0,0,0,0,0,0,0,
  0,0,-17,0,0,0,0,0,0,0,0,0,0,0,0,0,0,0,0,0,
  0,0,0,0,0,-15,0,0,0,0,0,0,0,0,0,0,0,0,0,0,
  0,0,0,0,0,-10,0,0,0,0,0,0,0,0,0,0,0,0,0,0,
  0,0,0,0,0,0,0,0,0,0,0,0,0,0,0,0,0,0,0,0,
  0,0,0,0,0,0,0,0,-15,0,0,0,0,0,0,0,0,0,0,0,
  0,0,0,-10,0,0
];
const sy12 = [
  0,0,0,0,0,-14,0,0,0,0,0,0,0,0,0,0,0,0,0,0,
  -10,0,0,0,0,0,-13,0,0,0,0,0,0,0,0,0,0,0,0,0,
  0,0,0,0,-18,0,0,0,0,0,0,0,0,0,0,0,0,0,0,0,
  0,0,0,0,0,0,0,0,0,0,0,0,-9,0,0,0,0,0,0,0,
  0,0,0,0,0,0,0,0,-11,0,0,0,0,0,0,0,0,0,0,0,
  0,0,0,0,0,0,0,0,0,0,0,0,-20,0,0,0,0,0,0,0,
  0,-10,0,0,0,0,0,0,0,0,0,0,0,0,0,0,0,0,0,0,
  0,0,0,0,0,0,0,0,0,0,0,-14,0,0,-13,0,0,0,0,0,
  -13,0,0,0,0,0,0,0,0,0,0,0,0,0,0,0,0,0,0,0,
  0,0,0,-17,0,0
];
const sy13 = [
  0,0,0,0,0,0,0,0,0,-8,0,0,0,0,0,0,0,0,0,0,
  0,0,0,0,0,0,0,0,0,0,0,0,0,0,0,0,0,0,0,0,
  0,0,0,0,0,0,0,0,0,0,0,0,0,0,0,0,0,0,0,0,
  0,0,0,0,-11,0,0,0,0,0,0,0,0,0,0,0,0,0,0,0,
  0,0,0,0,0,0,0,0,0,0,0,0,0,0,-13,0,0,0,0,0,
  0,0,0,0,0,0,0,0,0,0,0,0,0,0,0,0,0,0,0,0,
  0,0,0,0,0,0,0,0,0,0,-16,0,0,0,0,0,0,0,0,0,
  0,0,0,0,0,0,0,0,0,0,0,0,0,0,0,-14,0,0,0,0,
  0,0,0,0,0,0,0,0,0,0,0,0,0,0,0,0,0,0,-14,-14,
  0,0,0,0,0,0
];
const sy14 = [
  0,0,0,0,0,0,0,0,0,0,0,0,0,0,0,0,0,0,0,-5,
  0,0,0,0,0,0,0,0,0,0,0,0,0,0,0,-13,0,0,0,0,
  0,0,0,0,0,0,0,0,0,0,0,0,0,0,0,0,0,0,0,-5,
  0,0,0,0,0,0,0,0,0,0,0,0,0,0,0,0,0,0,0,0,
  0,0,0,0,0,0,0,0,0,-9,0,0,0,0,0,0,0,0,0,0,
  0,0,0,0,0,0,0,0,0,0,0,0,0,0,0,0,0,0,0,0,
  0,0,0,0,0,0,0,0,0,0,0,0,0,0,0,0,0,0,0,-8,
  0,0,0,0,0,0,0,0,0,-10,0,0,0,0,0,0,0,0,0,0,
  0,0,0,0,0,0,0,0,0,0,0,-18,0,0,0,0,0,0,0,0,
  0,0,0,0,0,0
];
const sy15 = [
  0,0,0,22,0,0,0,0,0,0,-7,0,0,0,0,0,-4,0,0,0,
  0,0,0,0,-15,0,0,0,0,0,0,0,0,0,0,12,0,0,10,0,
  0,0,0,0,0,0,0,0,0,0,0,0,0,0,0,0,0,0,0,0,
  0,0,0,0,0,0,0,0,0,0,0,0,0,-16,0,0,-21,0,0,0,
  0,0,0,0,0,0,0,0,0,0,0,0,0,0,-3,0,0,0,0,0,
  0,0,0,0,0,0,-18,0,0,0,0,0,-10,0,0,0,0,0,0,0,
  0,0,-10,0,0,0,0,0,4,0,0,0,0,0,0,0,0,0,0,0,
  0,0,0,0,0,0,-12,0,0,0,0,12,0,0,0,0,0,0,0,0,
  0,0,0,0,0,0,0,0,0,0,0,0,0,0,0,0,5,0,0,0,
  0,0,0,0,0,-9
];

const transSlices = [sliceRef, sliceRef, ty3, ty4, ty5, ty6, ty7, ty8, ty9, ty10, ty11, ty12, ty13, ty14, ty15];
const scaleSlices = [sliceRef, sliceRef, sy3, sy4, sy5, sy6, sy7, sy8, sy9, sy10, sy11, sy12, sy13, sy14, sy15];

// ---------- drawing ----------
const svg = d3.select('#fig');
const axisColor = '#262626';
let clipCount = 0;

svg.append('rect').attr('x', 9).attr('y', 7).attr('width', 1131).attr('height', 1179).attr('fill', '#f0f0f0');

function makeAxes(o) {
  const x = d3.scaleLinear().domain(o.xDom).range([o.left, o.right]);
  const y = d3.scaleLinear().domain(o.yDom).range([o.bottom, o.top]);
  const g = svg.append('g');
  g.append('rect')
    .attr('x', o.left).attr('y', o.top)
    .attr('width', o.right - o.left).attr('height', o.bottom - o.top)
    .attr('fill', '#fff');

  const id = 'clip' + (clipCount++);
  svg.append('clipPath').attr('id', id).append('rect')
    .attr('x', o.left).attr('y', o.top)
    .attr('width', o.right - o.left).attr('height', o.bottom - o.top);
  const lg = g.append('g').attr('clip-path', 'url(#' + id + ')');

  o.series.forEach(s => {
    const line = d3.line()
      .x((d, i) => x(i + o.xStart))
      .y(d => y(d));
    lg.append('path')
      .datum(s.values)
      .attr('fill', 'none')
      .attr('stroke', s.color)
      .attr('stroke-width', o.lw)
      .attr('stroke-linejoin', 'round')
      .attr('d', line);
  });

  const xa = d3.axisBottom(x).tickValues(o.xTicks).tickSize(-o.tick).tickSizeOuter(0).tickPadding(o.padX);
  const ya = d3.axisLeft(y).tickValues(o.yTicks).tickFormat(o.yFmt).tickSize(-o.tick).tickSizeOuter(0).tickPadding(o.padY);
  g.append('g').attr('transform', 'translate(0,' + o.bottom + ')').call(xa);
  g.append('g').attr('transform', 'translate(' + o.left + ',0)').call(ya);
  if (o.box) {
    g.append('g').attr('transform', 'translate(0,' + o.top + ')')
      .call(d3.axisTop(x).tickValues(o.xTicks).tickSize(-o.tick).tickSizeOuter(0).tickFormat(''));
    g.append('g').attr('transform', 'translate(' + o.right + ',0)')
      .call(d3.axisRight(y).tickValues(o.yTicks).tickSize(-o.tick).tickSizeOuter(0).tickFormat(''));
  }
  g.selectAll('.domain, .tick line').attr('stroke', axisColor).attr('stroke-width', o.axisW);
  g.selectAll('.tick text')
    .attr('font-size', o.font)
    .attr('font-family', '"Liberation Sans", Arial, sans-serif')
    .attr('fill', axisColor);
  return { x, y, g };
}

function title(txt, sub, cx, base, size) {
  const t = svg.append('text')
    .attr('x', cx).attr('y', base)
    .attr('text-anchor', 'middle')
    .attr('font-weight', 'bold')
    .attr('font-size', size)
    .attr('fill', '#000')
    .text(txt);
  if (sub) {
    t.append('tspan').attr('font-size', size * 0.72).attr('dy', 5).text(sub);
  }
}

function exponent(x, base) {
  const t = svg.append('text')
    .attr('x', x).attr('y', base)
    .attr('font-size', 16)
    .attr('fill', '#5a5a5a')
    .text('\u00d710');
  t.append('tspan').attr('font-size', 12).attr('dy', -8).text('-3');
}

function ylabel(txt, x, cy) {
  svg.append('text')
    .attr('transform', 'translate(' + x + ',' + cy + ') rotate(-90)')
    .attr('text-anchor', 'middle')
    .attr('font-size', 17)
    .text(txt);
}

function panelLetter(txt, x, base, family) {
  svg.append('text')
    .attr('x', x).attr('y', base)
    .attr('font-size', 31).attr('font-weight', 'bold')
    .attr('font-family', family)
    .attr('fill', '#000')
    .text(txt);
}

const fmtPlain = d => String(d);
const abCommon = { lw: 2.6, tick: 4.5, axisW: 0.8, font: 16, padY: 7.5, xStart: 0, box: false };

// ----- A -----
panelLetter('A', 13, 42, '"Liberation Sans", Arial, sans-serif');
makeAxes(Object.assign({}, abCommon, {
  left: 85.5, right: 552, top: 61, bottom: 216,
  xDom: [0, 154.6], yDom: [-0.5, 0.5],
  xTicks: [0, 50, 100, 150], yTicks: [-0.5, 0, 0.5], yFmt: fmtPlain, padX: 12.5,
  series: [
    { values: transX.map(v => v / 100), color: '#ff0000' },
    { values: transY.map(v => v / 100), color: '#00ff00' },
    { values: transZ.map(v => v / 100), color: '#0000ff' }
  ]
}));
title('Translation in x (red), y (green), z (blue)', null, 318, 53, 18.5);
ylabel('translation [mm]', 44.5, 138.5);

makeAxes(Object.assign({}, abCommon, {
  left: 85.5, right: 552, top: 273.7, bottom: 429,
  xDom: [0, 154.6], yDom: [-0.01, 0.0105],
  xTicks: [0, 50, 100, 150], yTicks: [-0.01, 0, 0.01], yFmt: fmtPlain, padX: 12.5,
  series: [
    { values: rotX.map(v => v / 10000), color: '#ff0000' },
    { values: rotY.map(v => v / 10000), color: '#00ff00' },
    { values: rotZ.map(v => v / 10000), color: '#0000ff' }
  ]
}));
title('Rotation along x (red), y (green), z (blue)', null, 318, 267, 18.5);
ylabel('rotation [rad]', 33.5, 352);

// ----- B -----
panelLetter('B', 582, 42, 'Lato, "Open Sans", sans-serif');
makeAxes(Object.assign({}, abCommon, {
  left: 619, right: 819, top: 68.3, bottom: 216.7,
  xDom: [0, 154.6], yDom: [-2.53, 3.16],
  xTicks: [0, 50, 100, 150], yTicks: [-2, 0, 2], yFmt: fmtPlain, padX: 13,
  series: [{ values: shearGx.map(v => v / 10), color: '#0000ff' }]
}));
exponent(619, 64.5);
title('x-y shear: G', 'x', 719, 55, 18);

makeAxes(Object.assign({}, abCommon, {
  left: 882.5, right: 1084.5, top: 68.3, bottom: 216.7,
  xDom: [0, 154.6], yDom: [0.99786, 1.00207],
  xTicks: [0, 50, 100, 150], yTicks: [0.998, 1, 1.002], yFmt: fmtPlain, padX: 13,
  series: [{ values: scaleGy.map(v => 1 + v / 10000), color: '#0000ff' }]
}));
title('y scaling: G', 'y', 983, 55, 18);

makeAxes(Object.assign({}, abCommon, {
  left: 619, right: 819, top: 281.7, bottom: 430,
  xDom: [0, 154.6], yDom: [-5, 5],
  xTicks: [0, 50, 100, 150], yTicks: [-5, 0, 5], yFmt: fmtPlain, padX: 12.5,
  series: [{ values: shearGz.map(v => v / 10), color: '#0000ff' }]
}));
exponent(619, 278);
title('y-z shear: G', 'z', 719, 268, 18);

makeAxes(Object.assign({}, abCommon, {
  left: 882.5, right: 1084.5, top: 281.7, bottom: 430,
  xDom: [0, 154.6], yDom: [-0.5, 0.5],
  xTicks: [0, 50, 100, 150], yTicks: [-0.5, 0, 0.5], yFmt: fmtPlain, padX: 12.5,
  series: [{ values: transY.map(v => v / 100), color: '#0000ff' }]
}));
title('y translation: B', '0', 983, 268, 18);

// ----- C -----
panelLetter('C', 13, 525, 'Lato, "Open Sans", sans-serif');
const cCommon = { lw: 1, tick: 9, axisW: 1, font: 25, padY: 8.5, xStart: 1, box: true,
  left: 101.9, right: 1031.7, xDom: [0, 187], xTicks: d3.range(0, 181, 20) };

makeAxes(Object.assign({}, cCommon, {
  top: 561, bottom: 771.7, yDom: [-1.22, 2],
  yTicks: [-1, 0, 1, 2], yFmt: fmtPlain, padX: 18.5,
  series: transSlices.map((s, i) => ({ values: s.map(v => v / 100), color: sliceColors[i] }))
}));
title('Translation in y (mm)', null, 566.8, 548, 28);

makeAxes(Object.assign({}, cCommon, {
  top: 931.7, bottom: 1143.3, yDom: [0.9775, 1.0395],
  yTicks: [0.98, 1, 1.02, 1.04], yFmt: fmtPlain, padX: 19,
  series: scaleSlices.map((s, i) => ({ values: s.map(v => 1 + v / 1000), color: sliceColors[i] }))
}));
title('Scaling in y', null, 566.8, 917, 28);

// legend
const leg = svg.append('g');
leg.append('rect')
  .attr('x', 1039.5).attr('y', 872.7).attr('width', 99.8).attr('height', 270.6)
  .attr('fill', '#fff').attr('stroke', axisColor).attr('stroke-width', 0.8);
sliceNames.forEach((name, i) => {
  const yy = 882.7 + i * 17.86;
  leg.append('line')
    .attr('x1', 1043.3).attr('x2', 1083.3).attr('y1', yy).attr('y2', yy)
    .attr('stroke', sliceColors[i]).attr('stroke-width', 1.2);
  leg.append('text')
    .attr('x', 1087.3).attr('y', yy).attr('dy', '0.35em')
    .attr('font-size', 13)
    .text(name);
});
</script>
</body>
</html>
